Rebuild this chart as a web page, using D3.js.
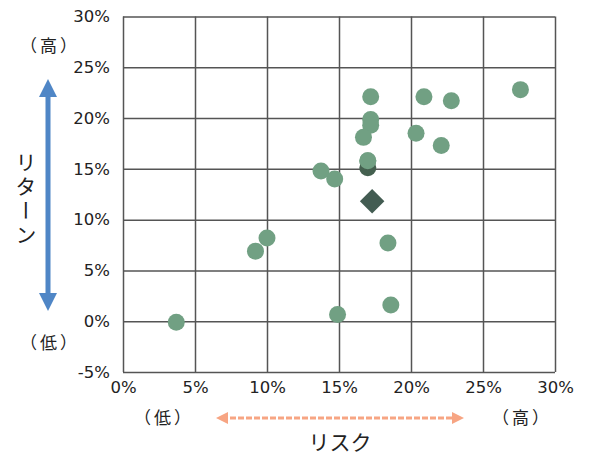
<!DOCTYPE html>
<html>
<head>
<meta charset="utf-8">
<script src="https://cdn.jsdelivr.net/npm/d3@7"></script>
<style>
  body { margin: 0; background: #fff; }
  text { font-family: "DejaVu Sans", "Noto Sans CJK JP", sans-serif; fill: #222; }
  .jp { font-family: "Noto Sans CJK JP", sans-serif; }
  .paren { letter-spacing: 3px; }
</style>
</head>
<body>
<div class="chart"></div>
<script>
// risk (x) and return (y), in percent
var riskVals   = [3.7, 9.2, 10.0, 13.75, 14.7, 14.9, 17.2, 17.2, 17.2, 16.7, 17.0, 18.4, 18.6, 20.35, 20.9, 22.1, 22.8, 27.6]
var returnVals = [-0.1, 6.9, 8.2, 14.8, 14.0, 0.65, 22.1, 19.85, 19.3, 18.1, 15.8, 7.7, 1.6, 18.5, 22.1, 17.3, 21.7, 22.8]
// darker marks: dark circle and diamond
var darkDot = [17.0, 15.1]
var diamond = [17.3, 11.8]

var xTicks = [0, 5, 10, 15, 20, 25, 30]
var yTicks = [-5, 0, 5, 10, 15, 20, 25, 30]

var W = 590, H = 456
var plot = { left: 123, right: 555, top: 16.5, bottom: 372 }

var svg = d3.select(".chart")
    .append("svg")
    .attr("width", W)
    .attr("height", H)

var x = d3.scaleLinear().domain([0, 30]).range([plot.left, plot.right])
var y = d3.scaleLinear().domain([-5, 30]).range([plot.bottom, plot.top])

// grid
svg.append("g")
    .attr("transform", "translate(0," + plot.bottom + ")")
    .call(d3.axisBottom(x).tickValues(xTicks).tickSize(-(plot.bottom - plot.top)).tickPadding(5).tickFormat(d => d + "%"))
    .call(g => g.select(".domain").remove())
    .call(g => g.selectAll("line").attr("stroke", "#555").attr("stroke-width", 1.5))
    .call(g => g.selectAll("text").attr("dy", "0.95em").style("font-size", "16.5px").style("fill", "#222"))

svg.append("g")
    .attr("transform", "translate(" + plot.left + ",0)")
    .call(d3.axisLeft(y).tickValues(yTicks).tickSize(-(plot.right - plot.left)).tickPadding(13).tickFormat(d => d + "%"))
    .call(g => g.select(".domain").remove())
    .call(g => g.selectAll("line").attr("stroke", "#555").attr("stroke-width", 1.5))
    .call(g => g.selectAll("text").style("font-size", "16.5px").style("fill", "#222"))

// points
svg.append("g")
    .selectAll("circle")
    .data(riskVals.map((r, i) => [r, returnVals[i]]))
    .join("circle")
    .attr("cx", d => x(d[0]))
    .attr("cy", d => y(d[1]))
    .attr("r", 8.5)
    .attr("fill", "#71a083")

svg.append("circle")
    .attr("cx", x(darkDot[0]))
    .attr("cy", y(darkDot[1]))
    .attr("r", 8.5)
    .attr("fill", "#44604f")

// redraw the green one on top of the dark dot (upper half visible)
svg.append("circle")
    .attr("cx", x(riskVals[10]))
    .attr("cy", y(returnVals[10]))
    .attr("r", 8.5)
    .attr("fill", "#71a083")

svg.append("path")
    .attr("d", d3.symbol(d3.symbolSquare, 300)())
    .attr("transform", "translate(" + x(diamond[0]) + "," + y(diamond[1]) + ") rotate(45)")
    .attr("fill", "#435c52")

// arrow markers
var defs = svg.append("defs")
defs.append("marker")
    .attr("id", "blueHead")
    .attr("viewBox", "0 0 10 10")
    .attr("refX", 5).attr("refY", 5)
    .attr("markerWidth", 3.6).attr("markerHeight", 3.6)
    .attr("markerUnits", "strokeWidth")
    .attr("orient", "auto-start-reverse")
    .append("path").attr("d", "M0,0 L10,5 L0,10 Z").attr("fill", "#4f86c6")

defs.append("marker")
    .attr("id", "orangeHead")
    .attr("viewBox", "0 0 10 10")
    .attr("refX", 5).attr("refY", 5)
    .attr("markerWidth", 4).attr("markerHeight", 4)
    .attr("markerUnits", "strokeWidth")
    .attr("orient", "auto-start-reverse")
    .append("path").attr("d", "M0,0 L10,5 L0,10 Z").attr("fill", "#f7a583")

// vertical return arrow
svg.append("line")
    .attr("x1", 48).attr("y1", 302)
    .attr("x2", 48).attr("y2", 88)
    .attr("stroke", "#4f86c6")
    .attr("stroke-width", 5)
    .attr("marker-start", "url(#blueHead)")
    .attr("marker-end", "url(#blueHead)")

// horizontal risk arrow
svg.append("line")
    .attr("x1", 222).attr("y1", 418)
    .attr("x2", 458).attr("y2", 418)
    .attr("stroke", "#f7a583")
    .attr("stroke-width", 3)
    .attr("stroke-dasharray", "6,2")
    .attr("marker-start", "url(#orangeHead)")
    .attr("marker-end", "url(#orangeHead)")

// labels
svg.append("text").attr("class", "jp paren").attr("x", 50).attr("y", 52)
    .attr("text-anchor", "middle").style("font-size", "17px").text("（高）")
svg.append("text").attr("class", "jp paren").attr("x", 50).attr("y", 349)
    .attr("text-anchor", "middle").style("font-size", "17px").text("（低）")
svg.append("text").attr("class", "jp paren").attr("x", 164).attr("y", 424)
    .attr("text-anchor", "middle").style("font-size", "17px").text("（低）")
svg.append("text").attr("class", "jp paren").attr("x", 522).attr("y", 424)
    .attr("text-anchor", "middle").style("font-size", "17px").text("（高）")
svg.append("text").attr("class", "jp").attr("x", 340).attr("y", 450)
    .attr("text-anchor", "middle").style("font-size", "21px").text("リスク")

svg.append("text").attr("class", "jp")
    .attr("x", 26).attr("y", 200)
    .attr("text-anchor", "middle")
    .attr("writing-mode", "vertical-rl")
    .attr("dominant-baseline", "central")
    .style("font-size", "21px")
    .style("letter-spacing", "3px")
    .text("リターン")
</script>
</body>
</html>
